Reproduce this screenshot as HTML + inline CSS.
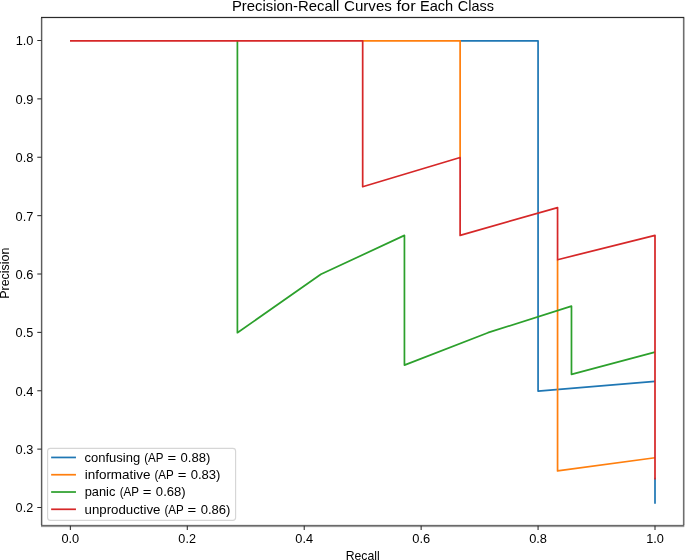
<!DOCTYPE html>
<html><head><meta charset="utf-8"><style>
html,body{margin:0;padding:0;background:#fff;}
svg{display:block;}
#w{will-change:transform;width:685px;height:560px;}
text{font-family:"Liberation Sans", sans-serif;fill:#000;}
</style></head><body>
<div id="w"><svg width="685" height="560" viewBox="0 0 685 560">
<rect x="0" y="0" width="685" height="560" fill="#fff"/>
<path d="M460.12,40.80 L538.07,40.80 L538.07,391.05 L655.00,381.32" fill="none" stroke="#1f77b4" stroke-width="1.72" stroke-linecap="butt" stroke-linejoin="round"/>
<path d="M655.00,478.61 L655.00,502.94" fill="none" stroke="#1f77b4" stroke-width="1.72" stroke-linecap="square" stroke-linejoin="round"/>
<path d="M362.68,40.80 L460.12,40.80 L460.12,157.55" fill="none" stroke="#ff7f0e" stroke-width="1.72" stroke-linecap="butt" stroke-linejoin="round"/>
<path d="M557.56,259.71 L557.56,470.93 L655.00,457.76" fill="none" stroke="#ff7f0e" stroke-width="1.72" stroke-linecap="butt" stroke-linejoin="round"/>
<path d="M237.40,40.80 L237.40,332.68 L320.92,274.30 L404.44,235.38 L404.44,365.11 L487.96,332.68 L571.48,306.14 L571.48,374.37 L655.00,352.13" fill="none" stroke="#2ca02c" stroke-width="1.72" stroke-linecap="butt" stroke-linejoin="round"/>
<path d="M70.86,40.80 L362.68,40.80 L362.68,186.74 L460.12,157.55 L460.12,235.38 L557.56,207.59 L557.56,259.71 L655.00,235.38 L655.00,478.61" fill="none" stroke="#d62728" stroke-width="1.72" stroke-linecap="square" stroke-linejoin="round"/>
<rect x="47.6" y="448.3" width="188.00" height="72.10" rx="2.8" ry="2.8" fill="#fff" fill-opacity="0.8" stroke="#d6d6d6" stroke-width="1.15"/>
<line x1="52.0" y1="457.45" x2="75.1" y2="457.45" stroke="#1f77b4" stroke-width="1.72" stroke-linecap="square"/>
<text y="461.70" font-size="12.10"><tspan x="84.58" textLength="55.58" lengthAdjust="spacingAndGlyphs">confusing</tspan><tspan x="144.27" textLength="19.30" lengthAdjust="spacingAndGlyphs">(AP</tspan><tspan x="167.47" textLength="8.70" lengthAdjust="spacingAndGlyphs">=</tspan><tspan x="180.54" textLength="29.76" lengthAdjust="spacingAndGlyphs">0.88)</tspan></text>
<line x1="52.0" y1="474.73" x2="75.1" y2="474.73" stroke="#ff7f0e" stroke-width="1.72" stroke-linecap="square"/>
<text y="479.00" font-size="12.10"><tspan x="84.69" textLength="65.83" lengthAdjust="spacingAndGlyphs">informative</tspan><tspan x="154.46" textLength="19.30" lengthAdjust="spacingAndGlyphs">(AP</tspan><tspan x="177.65" textLength="8.70" lengthAdjust="spacingAndGlyphs">=</tspan><tspan x="190.73" textLength="29.76" lengthAdjust="spacingAndGlyphs">0.83)</tspan></text>
<line x1="52.0" y1="492.01" x2="75.1" y2="492.01" stroke="#2ca02c" stroke-width="1.72" stroke-linecap="square"/>
<text y="496.30" font-size="12.10"><tspan x="84.70" textLength="30.66" lengthAdjust="spacingAndGlyphs">panic</tspan><tspan x="119.63" textLength="19.30" lengthAdjust="spacingAndGlyphs">(AP</tspan><tspan x="142.82" textLength="8.70" lengthAdjust="spacingAndGlyphs">=</tspan><tspan x="155.89" textLength="29.76" lengthAdjust="spacingAndGlyphs">0.68)</tspan></text>
<line x1="52.0" y1="509.29" x2="75.1" y2="509.29" stroke="#d62728" stroke-width="1.72" stroke-linecap="square"/>
<text y="513.60" font-size="12.10"><tspan x="84.62" textLength="75.86" lengthAdjust="spacingAndGlyphs">unproductive</tspan><tspan x="164.43" textLength="19.30" lengthAdjust="spacingAndGlyphs">(AP</tspan><tspan x="187.63" textLength="8.70" lengthAdjust="spacingAndGlyphs">=</tspan><tspan x="200.70" textLength="29.76" lengthAdjust="spacingAndGlyphs">0.86)</tspan></text>
<rect x="41" y="16" width="643.3" height="1" fill-opacity="0.106"/>
<rect x="41" y="17" width="643.3" height="1" fill-opacity="0.835"/>
<rect x="41" y="18" width="643.3" height="1" fill-opacity="0.082"/>
<rect x="41" y="524" width="643.3" height="1" fill-opacity="0.082"/>
<rect x="41" y="525" width="643.3" height="1" fill-opacity="0.584"/>
<rect x="41" y="526" width="643.3" height="1" fill-opacity="0.404"/>
<rect x="41" y="527" width="643.3" height="1" fill-opacity="0.051"/>
<rect x="40" y="18" width="1" height="507" fill-opacity="0.075"/>
<rect x="41" y="18" width="1" height="507" fill-opacity="0.639"/>
<rect x="42" y="18" width="1" height="507" fill-opacity="0.216"/>
<rect x="682" y="18" width="1" height="507" fill-opacity="0.059"/>
<rect x="683" y="18" width="1" height="507" fill-opacity="0.569"/>
<rect x="684" y="18" width="1" height="507" fill-opacity="0.286"/>
<line x1="70.36" y1="525.7" x2="70.36" y2="529.9000000000001" stroke="#2a2a2a" stroke-width="1.05"/>
<text y="542.70" font-size="12.10"><tspan x="61.44" textLength="17.81" lengthAdjust="spacingAndGlyphs">0.0</tspan></text>
<line x1="187.29" y1="525.7" x2="187.29" y2="529.9000000000001" stroke="#2a2a2a" stroke-width="1.05"/>
<text y="542.70" font-size="12.10"><tspan x="178.37" textLength="17.55" lengthAdjust="spacingAndGlyphs">0.2</tspan></text>
<line x1="304.22" y1="525.7" x2="304.22" y2="529.9000000000001" stroke="#2a2a2a" stroke-width="1.05"/>
<text y="542.70" font-size="12.10"><tspan x="295.29" textLength="17.80" lengthAdjust="spacingAndGlyphs">0.4</tspan></text>
<line x1="421.14" y1="525.7" x2="421.14" y2="529.9000000000001" stroke="#2a2a2a" stroke-width="1.05"/>
<text y="542.70" font-size="12.10"><tspan x="412.22" textLength="17.91" lengthAdjust="spacingAndGlyphs">0.6</tspan></text>
<line x1="538.07" y1="525.7" x2="538.07" y2="529.9000000000001" stroke="#2a2a2a" stroke-width="1.05"/>
<text y="542.70" font-size="12.10"><tspan x="529.15" textLength="17.85" lengthAdjust="spacingAndGlyphs">0.8</tspan></text>
<line x1="655.00" y1="525.7" x2="655.00" y2="529.9000000000001" stroke="#2a2a2a" stroke-width="1.05"/>
<text y="542.70" font-size="12.10"><tspan x="646.15" textLength="17.74" lengthAdjust="spacingAndGlyphs">1.0</tspan></text>
<line x1="37.3" y1="507.50" x2="41.5" y2="507.50" stroke="#2a2a2a" stroke-width="1.05"/>
<text y="512.40" font-size="12.10"><tspan x="15.62" textLength="17.55" lengthAdjust="spacingAndGlyphs">0.2</tspan></text>
<line x1="37.3" y1="449.12" x2="41.5" y2="449.12" stroke="#2a2a2a" stroke-width="1.05"/>
<text y="454.02" font-size="12.10"><tspan x="15.62" textLength="17.70" lengthAdjust="spacingAndGlyphs">0.3</tspan></text>
<line x1="37.3" y1="390.75" x2="41.5" y2="390.75" stroke="#2a2a2a" stroke-width="1.05"/>
<text y="395.65" font-size="12.10"><tspan x="15.62" textLength="17.80" lengthAdjust="spacingAndGlyphs">0.4</tspan></text>
<line x1="37.3" y1="332.38" x2="41.5" y2="332.38" stroke="#2a2a2a" stroke-width="1.05"/>
<text y="337.27" font-size="12.10"><tspan x="15.62" textLength="17.60" lengthAdjust="spacingAndGlyphs">0.5</tspan></text>
<line x1="37.3" y1="274.00" x2="41.5" y2="274.00" stroke="#2a2a2a" stroke-width="1.05"/>
<text y="278.90" font-size="12.10"><tspan x="15.61" textLength="17.91" lengthAdjust="spacingAndGlyphs">0.6</tspan></text>
<line x1="37.3" y1="215.63" x2="41.5" y2="215.63" stroke="#2a2a2a" stroke-width="1.05"/>
<text y="220.53" font-size="12.10"><tspan x="15.62" textLength="17.74" lengthAdjust="spacingAndGlyphs">0.7</tspan></text>
<line x1="37.3" y1="157.25" x2="41.5" y2="157.25" stroke="#2a2a2a" stroke-width="1.05"/>
<text y="162.15" font-size="12.10"><tspan x="15.61" textLength="17.85" lengthAdjust="spacingAndGlyphs">0.8</tspan></text>
<line x1="37.3" y1="98.87" x2="41.5" y2="98.87" stroke="#2a2a2a" stroke-width="1.05"/>
<text y="103.77" font-size="12.10"><tspan x="15.61" textLength="17.86" lengthAdjust="spacingAndGlyphs">0.9</tspan></text>
<line x1="37.3" y1="40.50" x2="41.5" y2="40.50" stroke="#2a2a2a" stroke-width="1.05"/>
<text y="45.40" font-size="12.10"><tspan x="15.69" textLength="17.74" lengthAdjust="spacingAndGlyphs">1.0</tspan></text>
<text y="10.90" font-size="14.51"><tspan x="231.90" textLength="107.47" lengthAdjust="spacingAndGlyphs">Precision-Recall</tspan><tspan x="344.06" textLength="47.82" lengthAdjust="spacingAndGlyphs">Curves</tspan><tspan x="396.48" textLength="19.18" lengthAdjust="spacingAndGlyphs">for</tspan><tspan x="419.96" textLength="33.24" lengthAdjust="spacingAndGlyphs">Each</tspan><tspan x="457.80" textLength="36.17" lengthAdjust="spacingAndGlyphs">Class</tspan></text>
<text y="559.60" font-size="12.10"><tspan x="345.68" textLength="33.99" lengthAdjust="spacingAndGlyphs">Recall</tspan></text>
<text y="0.00" font-size="12.10" transform="translate(8.8,273.2) rotate(-90)"><tspan x="-25.60" textLength="51.14" lengthAdjust="spacingAndGlyphs">Precision</tspan></text>
</svg></div>
</body></html>
